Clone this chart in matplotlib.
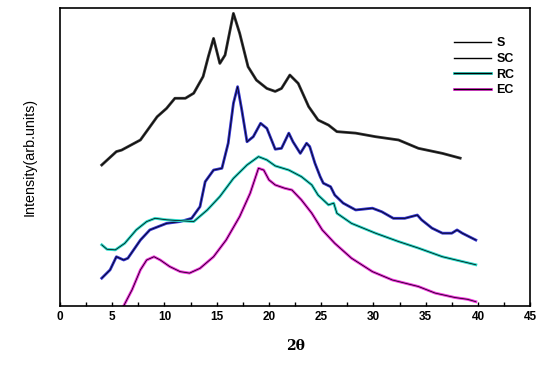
import matplotlib
matplotlib.use("Agg")
import matplotlib.pyplot as plt
from matplotlib.lines import Line2D
from matplotlib.legend_handler import HandlerTuple

plt.rcParams['font.family'] = ['Liberation Sans', 'DejaVu Sans']

# XRD patterns, intensity in arbitrary units
s_x = [4.0, 5.4, 5.9, 7.7, 9.3, 10.2, 11.0, 12.0, 12.8, 13.7, 14.2, 14.7, 15.3, 15.8,
       16.6, 17.2, 18.0, 18.8, 19.8, 20.6, 21.2, 22.0, 22.8, 23.8, 24.7, 25.7, 26.5,
       28.3, 30.2, 32.4, 34.3, 36.6, 38.3]
s_y = [47.3, 51.8, 52.3, 55.7, 63.5, 66.3, 69.7, 69.7, 71.4, 77.0, 83.7, 89.8, 81.4, 84.2,
       98.2, 91.5, 80.3, 75.8, 73.0, 72.0, 73.0, 77.5, 74.7, 66.9, 62.4, 60.7, 58.5,
       58.0, 56.8, 55.7, 52.9, 51.2, 49.6]

sc_x = [4.0, 4.8, 5.4, 6.1, 6.5, 7.7, 8.6, 10.2, 11.5, 12.6, 13.4, 13.9, 14.7, 15.5,
        16.1, 16.6, 17.0, 17.4, 17.9, 18.5, 19.2, 19.8, 20.6, 21.2, 21.9, 22.3, 23.0,
        23.6, 23.9, 24.4, 24.9, 25.2, 25.9, 26.3, 27.1, 28.3, 29.9, 30.8, 31.9, 33.0,
        34.2, 34.6, 35.6, 36.6, 37.5, 38.0, 38.5, 39.8]
sc_y = [9.3, 12.1, 16.5, 15.4, 16.0, 22.1, 25.5, 27.7, 28.3, 29.4, 33.3, 41.7, 45.6, 46.2,
        54.6, 68.0, 73.6, 65.8, 55.1, 56.8, 61.3, 59.6, 52.6, 52.9, 58.0, 55.1, 51.2,
        54.6, 53.5, 47.9, 43.4, 41.2, 40.0, 37.2, 34.5, 32.2, 32.8, 31.6, 29.4, 29.4,
        30.5, 28.9, 26.1, 24.4, 24.4, 25.5, 24.4, 22.1]

rc_x = [4.0, 4.5, 5.3, 6.2, 7.3, 8.3, 9.1, 10.2, 11.5, 12.8, 14.1, 15.3, 16.6, 17.9,
        19.0, 19.8, 20.6, 21.9, 23.1, 24.1, 24.7, 25.7, 26.2, 26.5, 27.9, 30.2, 32.4,
        34.3, 36.6, 38.5, 39.8]
rc_y = [20.5, 19.0, 18.8, 21.0, 25.5, 28.3, 29.4, 28.9, 28.6, 28.3, 32.2, 36.7, 42.8, 47.3,
        50.1, 49.0, 47.0, 45.6, 43.4, 40.6, 37.2, 33.9, 34.5, 31.1, 27.7, 24.4, 21.6,
        19.4, 16.5, 14.9, 13.8]

ec_x = [6.1, 6.9, 7.7, 8.3, 9.0, 9.6, 10.5, 11.5, 12.4, 13.4, 14.7, 15.9, 17.2, 18.2,
        19.0, 19.5, 20.0, 20.6, 21.5, 22.2, 23.1, 24.1, 25.1, 26.3, 27.9, 29.9, 31.8,
        34.3, 35.9, 37.8, 39.0, 39.8]
ec_y = [0.0, 5.4, 12.1, 15.4, 16.5, 15.4, 13.2, 11.5, 11.0, 12.6, 16.5, 22.1, 30.0, 37.8,
        46.2, 45.6, 42.3, 40.6, 39.5, 38.9, 35.6, 31.1, 25.5, 21.0, 16.0, 11.5, 8.7,
        6.5, 4.3, 2.8, 2.2, 1.4]

labels = ['S', 'SC', 'RC', 'EC']
halo_colors = ['#303030', '#3030c8', '#2ad8c8', '#ee30dc']
legend_colors = [None, None, '#2ad8c8', '#ee30dc']

fig = plt.figure(figsize=(5.5, 3.65), dpi=100)
ax = fig.add_axes([0.109, 0.162, 0.855, 0.816])

for (x, y), c in zip([(s_x, s_y), (sc_x, sc_y), (rc_x, rc_y), (ec_x, ec_y)], halo_colors):
    ax.plot(x, y, color=c, lw=2.0)
    ax.plot(x, y, color='black', lw=0.5)

ax.set_xlim(0, 45)
ax.set_ylim(0, 100)
ax.set_xticks(range(0, 46, 5))
ax.set_xticks([i + 2.5 for i in range(0, 45, 5)], minor=True)
ax.set_yticks([])
ax.tick_params(axis='x', which='both', direction='in', length=3, width=1, labelsize=8.5)
for lbl in ax.get_xticklabels():
    lbl.set_fontweight('bold')
for sp in ax.spines.values():
    sp.set_linewidth(1.2)

ax.set_xlabel('2θ', fontsize=10, fontweight='bold', family='DejaVu Serif', labelpad=12)
ax.set_ylabel('Intensity(arb.units)', fontsize=10.3, labelpad=17)

# legend keys: thin black line, with a coloured fringe for RC and EC
leg_handles = []
for c in legend_colors:
    core = Line2D([], [], color='black', lw=1.0)
    if c is None:
        leg_handles.append((core,))
    else:
        leg_handles.append((Line2D([], [], color=c, lw=2.0), core))
leg = ax.legend(leg_handles, labels, handler_map={tuple: HandlerTuple(ndivide=1)},
                loc='upper right', bbox_to_anchor=(0.99, 0.94), frameon=False,
                fontsize=9, handlelength=3.0, handletextpad=0.4, labelspacing=0.3)
for t in leg.get_texts():
    t.set_fontweight('bold')

fig.savefig('out.png', dpi=100)
